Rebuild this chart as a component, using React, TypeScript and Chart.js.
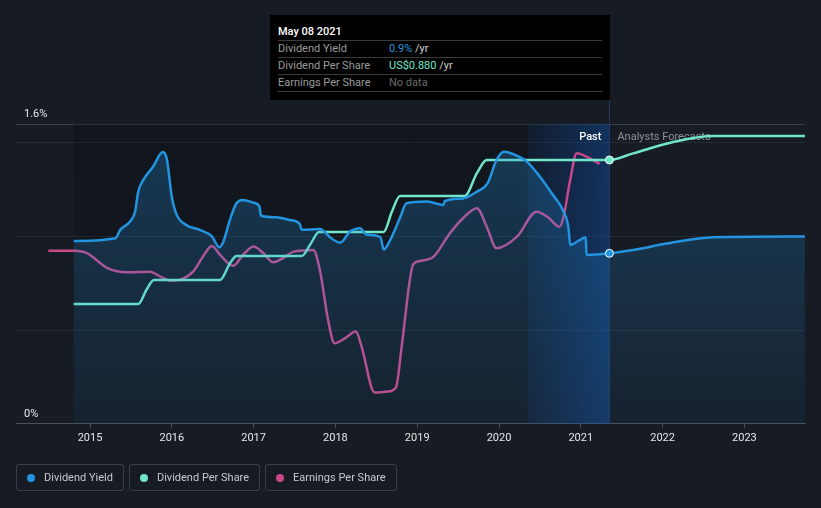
import React, { useEffect, useRef } from 'react';
import { Chart, registerables } from 'chart.js';

Chart.register(...registerables);

// ---- data (x in fractional years) ----
const YEAR_TICKS = [2015, 2016, 2017, 2018, 2019, 2020, 2021, 2022, 2023];
const Y_TICKS = [0, 0.5, 1, 1.5, 1.6];
const NOW = 2021.35; // May 08 2021
const DATA_START = 2014.8;

// Dividend Yield (%)
const YIELD_DATES = [
  2014.8, 2015.31, 2015.37, 2015.49, 2015.55, 2015.59, 2015.65, 2015.77, 2015.89, 2015.94,
  2016.0, 2016.06, 2016.18, 2016.34, 2016.49, 2016.58, 2016.63, 2016.71, 2016.79, 2016.87,
  2017.0, 2017.07, 2017.09, 2017.28, 2017.44, 2017.56, 2017.59, 2017.81, 2017.95, 2018.06,
  2018.18, 2018.3, 2018.38, 2018.55, 2018.59, 2018.67, 2018.79, 2018.87, 2019.12, 2019.32,
  2019.34, 2019.56, 2019.73, 2019.86, 2019.97, 2020.06, 2020.17, 2020.34, 2020.5, 2020.66,
  2020.79, 2020.85, 2020.87, 2020.99, 2021.06, 2021.07, 2021.35,
  2021.76, 2022.0, 2022.62, 2023.74,
];
const YIELD_VALUES = [
  0.975, 0.99, 1.035, 1.08, 1.13, 1.24, 1.3, 1.372, 1.45, 1.41,
  1.21, 1.115, 1.06, 1.035, 1.0, 0.942, 0.972, 1.088, 1.177, 1.195,
  1.18, 1.16, 1.11, 1.102, 1.088, 1.07, 1.035, 1.04, 0.99, 0.967,
  1.026, 1.044, 1.01, 0.996, 0.93, 0.981, 1.1, 1.177, 1.186, 1.168,
  1.189, 1.203, 1.239, 1.283, 1.408, 1.452, 1.44, 1.399, 1.319, 1.221,
  1.132, 1.044, 0.955, 0.981, 0.996, 0.901, 0.91,
  0.937, 0.958, 0.996, 1.0,
];

// Dividend Per Share (US$)
const DPS_DATES = [
  2014.8, 2015.59, 2015.69, 2015.78, 2016.59, 2016.71, 2016.79, 2017.59, 2017.69, 2017.8,
  2018.59, 2018.69, 2018.79, 2019.58, 2019.73, 2019.85, 2021.35,
  2021.64, 2022.13, 2022.62, 2023.74,
];
const DPS_VALUES = [
  0.4, 0.4, 0.447, 0.48, 0.48, 0.535, 0.56, 0.56, 0.597, 0.64,
  0.64, 0.707, 0.76, 0.76, 0.836, 0.88, 0.88,
  0.902, 0.94, 0.96, 0.96,
];

// Earnings Per Share (relative scale)
const EPS_DATES = [
  2014.49, 2014.8, 2014.98, 2015.1, 2015.22, 2015.45, 2015.73, 2015.86, 2015.98, 2016.12,
  2016.26, 2016.38, 2016.49, 2016.59, 2016.75, 2016.87, 2017.0, 2017.12, 2017.24, 2017.36,
  2017.49, 2017.73, 2017.81, 2017.91, 2017.99, 2018.12, 2018.25, 2018.32, 2018.48, 2018.63,
  2018.74, 2018.81, 2018.91, 2018.95, 2019.05, 2019.2, 2019.4, 2019.56, 2019.73, 2019.85,
  2019.97, 2020.22, 2020.46, 2020.6, 2020.74, 2020.79, 2020.87, 2020.95, 2021.07, 2021.23,
];
const EPS_VALUES = [
  0.923, 0.923, 0.907, 0.866, 0.83, 0.809, 0.812, 0.786, 0.764, 0.772,
  0.812, 0.892, 0.949, 0.901, 0.843, 0.901, 0.946, 0.91, 0.862, 0.884,
  0.919, 0.928, 0.821, 0.555, 0.43, 0.457, 0.492, 0.412, 0.167, 0.172,
  0.194, 0.412, 0.768, 0.85, 0.87, 0.892, 1.017, 1.097, 1.15, 1.052,
  0.937, 0.999, 1.132, 1.102, 1.052, 1.106, 1.301, 1.444, 1.426, 1.387,
];

const BLUE = '#2394df';
const TEAL = '#70e6cb';
const MAGENTA = '#c9488a';
const BG = '#161b24';
const FONT = 'Roboto, "Noto Sans", sans-serif';

const pts = (xs: number[], ys: number[]) => xs.map((x, i) => ({ x, y: ys[i] }));

export default function App() {
  const ref = useRef<HTMLCanvasElement>(null);

  useEffect(() => {
    const canvas = ref.current!;
    const overlay = {
      id: 'overlay',
      beforeDatasetsDraw(chart: any) {
        const { ctx, chartArea: a, scales } = chart;
        const x = scales.x;
        const x0 = x.getPixelForValue(DATA_START);
        const xn = x.getPixelForValue(NOW);
        const xb = x.getPixelForValue(NOW - 1);
        ctx.save();
        const g = ctx.createLinearGradient(0, a.top, 0, a.bottom);
        g.addColorStop(0, 'rgba(0,0,0,0.22)');
        g.addColorStop(1, 'rgba(0,0,0,0.0)');
        ctx.fillStyle = g;
        ctx.fillRect(x0, a.top, xn - x0, a.bottom - a.top);
        const g2 = ctx.createLinearGradient(xb, 0, xn, 0);
        g2.addColorStop(0, 'rgba(20,85,175,0.12)');
        g2.addColorStop(1, 'rgba(20,85,175,0.45)');
        ctx.fillStyle = g2;
        ctx.fillRect(xb, a.top, xn - xb, a.bottom - a.top);
        ctx.strokeStyle = '#223a5c';
        ctx.lineWidth = 1;
        ctx.beginPath();
        ctx.moveTo(Math.round(xn) + 0.5, 100);
        ctx.lineTo(Math.round(xn) + 0.5, a.bottom);
        ctx.stroke();
        ctx.font = `500 11px ${FONT}`;
        ctx.textBaseline = 'middle';
        ctx.textAlign = 'right';
        ctx.fillStyle = '#ffffff';
        ctx.fillText('Past', xn - 8, 137);
        ctx.textAlign = 'left';
        ctx.fillStyle = '#8d9299';
        ctx.font = `11px ${FONT}`;
        ctx.fillText('Analysts Forecasts', xn + 8, 137);
        ctx.restore();
      },
    };

    const markerRadius = (c: any) => (c.raw && c.raw.x === NOW ? 4 : 0);

    const chart = new Chart(canvas, {
      type: 'line',
      data: {
        datasets: [
          {
            label: 'Dividend Yield',
            data: pts(YIELD_DATES, YIELD_VALUES),
            borderColor: BLUE,
            borderWidth: 2.5,
            yAxisID: 'y',
            cubicInterpolationMode: 'monotone',
            fill: 'origin',
            backgroundColor: (c: any) => {
              const a = c.chart.chartArea;
              if (!a) return 'rgba(35,148,223,0.15)';
              const g = c.chart.ctx.createLinearGradient(0, a.top, 0, a.bottom);
              g.addColorStop(0, 'rgba(35,148,223,0.3)');
              g.addColorStop(1, 'rgba(35,148,223,0.06)');
              return g;
            },
            pointRadius: markerRadius,
            pointHoverRadius: 0,
            pointBackgroundColor: BLUE,
            pointBorderColor: '#ffffff',
            pointBorderWidth: 1,
          },
          {
            label: 'Dividend Per Share',
            data: pts(DPS_DATES, DPS_VALUES),
            borderColor: TEAL,
            borderWidth: 2.5,
            yAxisID: 'yDps',
            cubicInterpolationMode: 'monotone',
            fill: false,
            pointRadius: markerRadius,
            pointHoverRadius: 0,
            pointBackgroundColor: TEAL,
            pointBorderColor: '#ffffff',
            pointBorderWidth: 1,
          },
          {
            label: 'Earnings Per Share',
            data: pts(EPS_DATES, EPS_VALUES),
            borderColor: MAGENTA,
            borderWidth: 2.5,
            yAxisID: 'yEps',
            cubicInterpolationMode: 'monotone',
            fill: false,
            pointRadius: 0,
          },
        ],
      },
      options: {
        animation: false,
        responsive: false,
        devicePixelRatio: 1,
        layout: { padding: { left: 0, right: 16, top: 124, bottom: 59 } },
        plugins: { legend: { display: false }, tooltip: { enabled: false } },
        scales: {
          x: {
            type: 'linear',
            min: 2014.095,
            max: 2023.741,
            afterBuildTicks: (s: any) => {
              s.ticks = YEAR_TICKS.map((v) => ({ value: v }));
            },
            ticks: {
              callback: (v: any) => String(v),
              color: '#e6e6e6',
              font: { family: FONT, size: 11 },
              padding: 4,
              maxRotation: 0,
              autoSkip: false,
            },
            grid: { drawOnChartArea: false, drawTicks: true, tickLength: 4, color: '#4b5058' },
            border: { display: true, color: '#4b5058' },
          },
          y: {
            type: 'linear',
            position: 'left',
            min: 0,
            max: 1.6,
            afterBuildTicks: (s: any) => {
              s.ticks = Y_TICKS.map((v) => ({ value: v }));
            },
            ticks: {
              mirror: true,
              padding: 8,
              labelOffset: -10,
              color: '#e8e8e8',
              font: { family: FONT, size: 11 },
              callback: (v: any) => (v === 0 ? '0%' : v === 1.6 ? '1.6%' : ''),
            },
            grid: {
              drawTicks: false,
              color: (c: any) =>
                c.tick && c.tick.value === 1.6 ? '#3b4048' : c.tick && c.tick.value === 0 ? 'rgba(0,0,0,0)' : '#262c35',
            },
            border: { display: false },
          },
          yDps: { type: 'linear', display: false, min: 0, max: 1.0 },
          yEps: { type: 'linear', display: false, min: 0, max: 1.6 },
        },
      },
      plugins: [overlay],
    } as any);
    return () => chart.destroy();
  }, []);

  const legendItem = (color: string, text: string) => (
    <div
      style={{
        boxSizing: 'border-box',
        height: 27,
        border: '1px solid #3a3f47',
        borderRadius: 3,
        padding: '0 10px',
        display: 'flex',
        alignItems: 'center',
        gap: 9,
        color: '#c9c9c9',
        fontSize: 11,
        fontFamily: FONT,
      }}
    >
      <span style={{ width: 8, height: 8, borderRadius: '50%', background: color, display: 'inline-block' }} />
      <span>{text}</span>
    </div>
  );

  const row = (top: number, label: string, value: React.ReactNode) => (
    <div style={{ position: 'absolute', left: 8, top, height: 14, lineHeight: '14px', width: 330 }}>
      <span style={{ position: 'absolute', left: 0, color: '#9c9c9c' }}>{label}</span>
      <span style={{ position: 'absolute', left: 111 }}>{value}</span>
    </div>
  );
  const sep = (top: number) => (
    <div style={{ position: 'absolute', left: 8, top, width: 324, height: 1, background: '#3a3a3a' }} />
  );

  return (
    <div style={{ position: 'absolute', left: 0, top: 0, width: 821, height: 508, background: BG, overflow: 'hidden' }}>
      <canvas ref={ref} width={821} height={508} style={{ position: 'absolute', left: 0, top: 0, width: 821, height: 508 }} />
      <div
        style={{
          position: 'absolute',
          left: 270,
          top: 15,
          width: 340,
          height: 85,
          background: '#000000',
          fontFamily: FONT,
          fontSize: 11,
        }}
      >
        <div style={{ position: 'absolute', left: 8, top: 10, lineHeight: '14px', color: '#ffffff', fontWeight: 500 }}>May 08 2021</div>
        {sep(25)}
        {row(27, 'Dividend Yield', <><span style={{ color: BLUE }}>0.9%</span><span style={{ color: '#cfcfcf' }}> /yr</span></>)}
        {sep(42)}
        {row(44, 'Dividend Per Share', <><span style={{ color: TEAL }}>US$0.880</span><span style={{ color: '#cfcfcf' }}> /yr</span></>)}
        {sep(59)}
        {row(61, 'Earnings Per Share', <span style={{ color: '#6b6b6b' }}>No data</span>)}
        {sep(76)}
      </div>
      <div style={{ position: 'absolute', left: 16, top: 464, display: 'flex', gap: 5 }}>
        {legendItem(BLUE, 'Dividend Yield')}
        {legendItem(TEAL, 'Dividend Per Share')}
        {legendItem(MAGENTA, 'Earnings Per Share')}
      </div>
    </div>
  );
}
